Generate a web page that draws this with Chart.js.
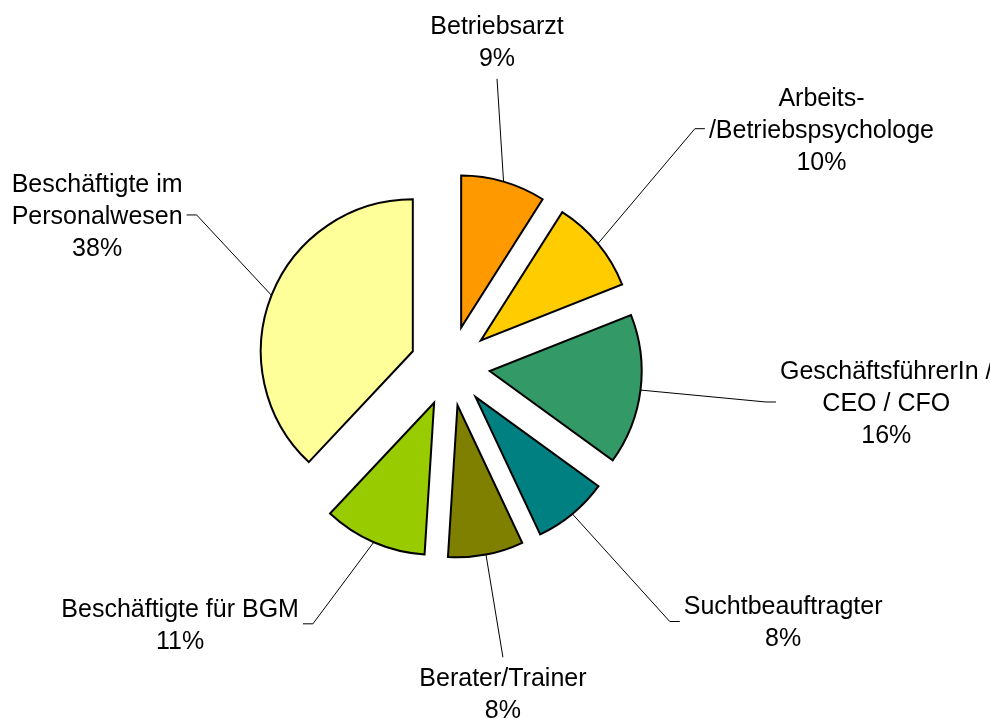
<!DOCTYPE html>
<html>
<head>
<meta charset="utf-8">
<script src="https://cdn.jsdelivr.net/npm/chart.js@4.4.1/dist/chart.umd.min.js"></script>
<style>
  html, body { margin: 0; padding: 0; background: #fff; }
  #wrap { width: 990px; height: 719px; position: relative; }
</style>
</head>
<body>
<div id="wrap"><canvas id="chart-pie"></canvas></div>
<script>
// categories (label lines) and shares in percent
const categories = [
  ["Betriebsarzt"],
  ["Arbeits-", "/Betriebspsychologe"],
  ["GeschäftsführerIn /", "CEO / CFO"],
  ["Suchtbeauftragter"],
  ["Berater/Trainer"],
  ["Beschäftigte für BGM"],
  ["Beschäftigte im", "Personalwesen"],
];
const shares = [9, 10, 16, 8, 8, 11, 38];

// pull every slice out from the centre along its middle angle
const explodePlugin = {
  id: "explode",
  afterDatasetsUpdate(chart, args, opts) {
    chart.getDatasetMeta(0).data.forEach((arc) => {
      const mid = (arc.startAngle + arc.endAngle) / 2;
      arc.x += Math.cos(mid) * opts.distance;
      arc.y += Math.sin(mid) * opts.distance;
    });
  },
};

// excel style labels with leader lines
const labelPlugin = {
  id: "sliceLabels",
  afterDatasetsDraw(chart, args, opts) {
    const ctx = chart.ctx;
    const area = chart.chartArea;
    const cx = (area.left + area.right) / 2;
    const cy = (area.top + area.bottom) / 2;
    const data = chart.data.datasets[0].data;
    const total = data.reduce((a, b) => a + b, 0);
    const lineH = 32;

    ctx.save();
    ctx.font = opts.font;
    ctx.fillStyle = "#000";
    ctx.strokeStyle = "#000";
    ctx.lineWidth = 1;
    ctx.textAlign = "center";
    ctx.textBaseline = "alphabetic";

    chart.getDatasetMeta(0).data.forEach((arc, i) => {
      const mid = (arc.startAngle + arc.endAngle) / 2;
      const rIn = arc.outerRadius + opts.explode;
      const x0 = cx + Math.cos(mid) * rIn;
      const y0 = cy + Math.sin(mid) * rIn;
      const a = mid + (opts.nudge[i] * Math.PI) / 180;
      const ex = cx + Math.cos(a) * opts.radius[i];
      const ey = cy + Math.sin(a) * opts.radius[i];

      const lines = chart.data.labels[i].concat([Math.round((data[i] / total) * 100) + "%"]);
      const widths = lines.map((t) => ctx.measureText(t).width);
      const maxW = Math.max(...widths);
      const capHalf = 9;

      ctx.beginPath();
      ctx.moveTo(x0, y0);
      ctx.lineTo(ex, ey);

      let bx, firstY;
      if (Math.abs(Math.cos(a)) < 0.25) {
        bx = ex;
        if (Math.sin(a) < 0) {
          firstY = ey - 22 - lineH * (lines.length - 1);
        } else {
          firstY = ey + 20;
        }
      } else if (Math.cos(a) > 0) {
        ctx.lineTo(ex + 10, ey);
        bx = ex + 14 + maxW / 2;
        firstY = ey - (lineH * (lines.length - 1)) / 2;
      } else {
        ctx.lineTo(ex - 10, ey);
        bx = ex - 14 - maxW / 2;
        firstY = ey - (lineH * (lines.length - 1)) / 2;
      }
      ctx.stroke();

      lines.forEach((t, k) => {
        ctx.fillText(t, bx, firstY + k * lineH + capHalf);
      });
    });
    ctx.restore();
  },
};

const ctxPie = document.getElementById("chart-pie");

new Chart(ctxPie, {
  type: "pie",
  data: {
    labels: categories,
    datasets: [
      {
        data: shares,
        backgroundColor: ["#FF9900", "#FFCC00", "#339966", "#008080", "#808000", "#99CC00", "#FFFF99"],
        borderColor: "#000",
        borderWidth: 2,
        borderJoinStyle: "miter",
      },
    ],
  },
  options: {
    responsive: true,
    maintainAspectRatio: false,
    animation: false,
    radius: 152,
    layout: {
      padding: { left: 0, right: 90, top: 13, bottom: 0 },
    },
    plugins: {
      legend: { display: false },
      tooltip: { enabled: false },
      explode: { distance: 40 },
      sliceLabels: {
        font: '25px "Liberation Sans", Arial, sans-serif',
        explode: 40,
        nudge: [-6.9, -4.5, -0.7, -1.1, 0.5, 4.6, 9.2],
        radius: [291, 341, 318, 337, 296, 292, 295],
      },
    },
  },
  plugins: [explodePlugin, labelPlugin],
});
</script>
</body>
</html>
